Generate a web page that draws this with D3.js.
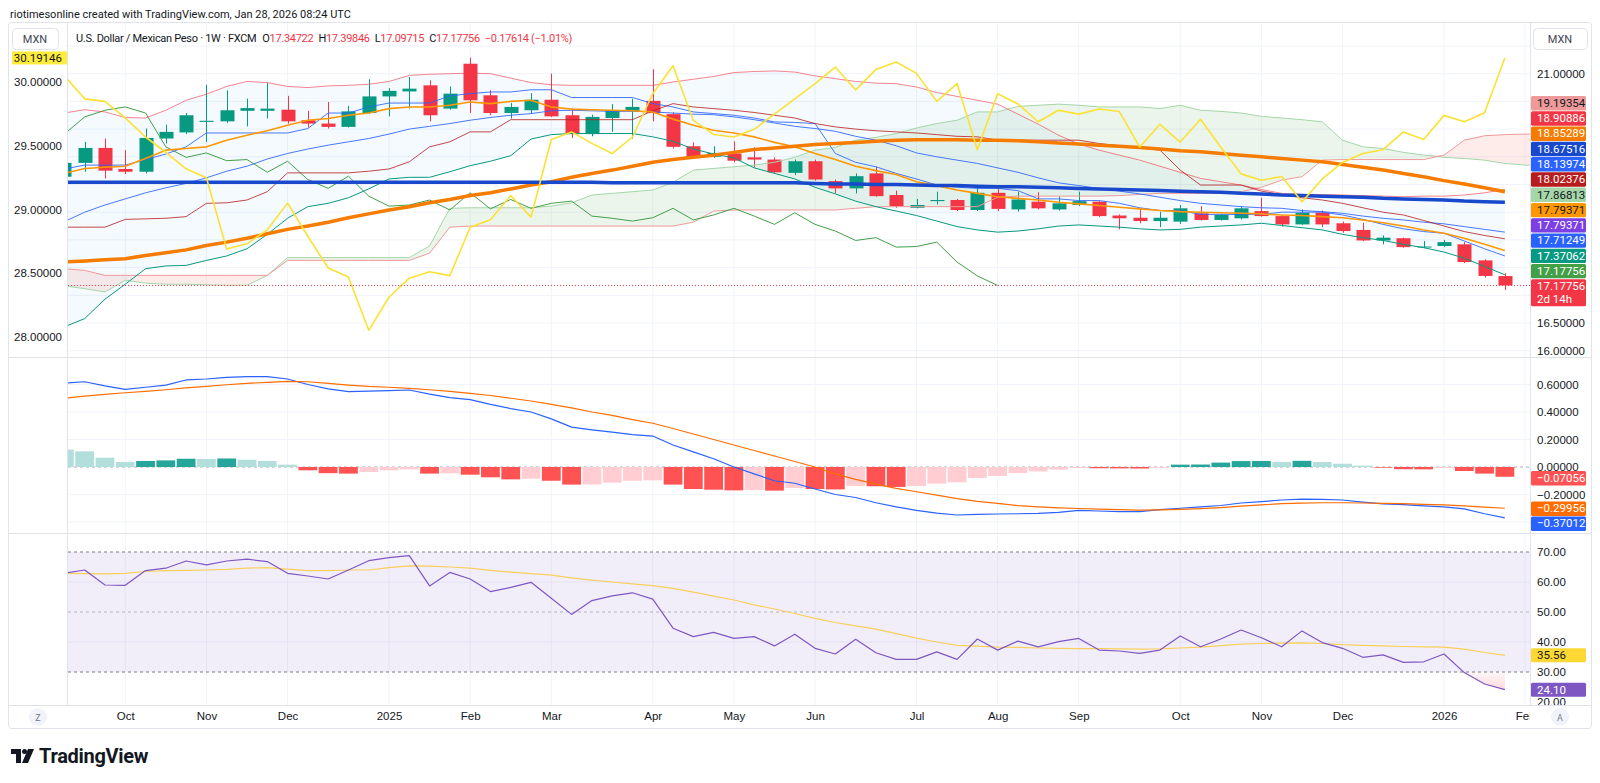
<!DOCTYPE html>
<html>
<head>
<meta charset="utf-8">
<title>USD/MXN 1W</title>
<script src="https://cdn.jsdelivr.net/npm/d3@7/dist/d3.min.js"></script>
<style>
  body { margin: 0; background: #ffffff; }
  #chart { display: block; font-family: Roboto, "Liberation Sans", Arial, sans-serif; }
  .ax text { fill: #131722; font-size: 11.5px; }
  .ax path, .ax line { display: none; }
</style>
</head>
<body>
<svg id="chart" width="1600" height="783"></svg>
<script>
// weekly bars from Sep 16 2024, the last one is the week of Jan 26 2026
const weeks = d3.utcMonday.range(new Date("2024-09-16"), new Date("2026-02-10"));

const monthTicks = ["2024-10-07","2024-11-04","2024-12-02","2025-01-06","2025-02-03","2025-03-03","2025-04-07",
  "2025-05-05","2025-06-02","2025-07-07","2025-08-04","2025-09-01","2025-10-06","2025-11-03","2025-12-01",
  "2026-01-05","2026-02-02"];
const monthLabels = ["Oct","Nov","Dec","2025","Feb","Mar","Apr","May","Jun","Jul","Aug","Sep","Oct","Nov","Dec","2026","Feb"];

// USD/MXN candles
const opens = [19.14,19.39,19.66,19.28,19.23,19.83,19.94,20.13,20.14,20.33,20.33,20.35,20.16,20.10,20.04,20.29,
  20.59,20.68,20.79,20.37,21.18,20.61,20.29,20.34,20.53,20.25,19.91,20.20,20.33,20.51,20.27,19.69,
  19.50,19.56,19.49,19.45,19.21,19.42,19.06,18.93,19.20,18.81,18.58,18.70,18.72,18.54,18.85,18.55,
  18.69,18.55,18.63,18.69,18.44,18.40,18.34,18.33,18.48,18.36,18.39,18.52,18.43,18.28,18.49,18.30,
  18.18,17.99,18.03,17.87,17.89,17.92,17.63,17.34722];
const highs = [19.45,19.77,19.83,19.62,20.01,20.08,20.29,20.80,20.70,20.55,20.83,20.60,20.33,20.49,20.42,20.90,
  20.74,20.94,20.88,20.77,21.29,20.70,20.47,20.65,21.00,20.37,20.26,20.45,20.55,21.08,20.30,19.76,
  19.69,19.78,19.67,19.49,19.45,19.45,19.09,19.20,19.32,18.89,18.74,18.87,18.74,18.96,18.96,18.87,
  18.86,18.79,18.87,18.70,18.46,18.57,18.51,18.63,18.61,18.47,18.60,18.76,18.45,18.55,18.53,18.33,
  18.31,18.08,18.04,17.98,18.00,17.96,17.65,17.39846];
const lows = [19.08,19.23,19.11,19.19,19.20,19.74,19.91,19.77,20.11,20.05,20.19,20.10,20.03,20.01,20.03,20.27,
  20.23,20.37,20.14,20.35,20.29,20.25,20.19,20.28,20.22,19.84,19.87,19.95,19.83,20.14,19.65,19.48,
  19.48,19.40,19.31,19.20,19.17,19.07,18.84,18.84,18.78,18.58,18.57,18.64,18.52,18.52,18.52,18.51,
  18.55,18.53,18.61,18.41,18.19,18.30,18.23,18.29,18.35,18.35,18.37,18.42,18.24,18.27,18.23,18.13,
  17.98,17.92,17.86,17.85,17.87,17.58,17.32,17.09715];
const closes = [19.39,19.66,19.25,19.23,19.84,19.95,20.25,20.15,20.34,20.38,20.37,20.14,20.10,20.04,20.32,20.59,
  20.69,20.73,20.25,20.64,20.52,20.29,20.40,20.53,20.23,19.91,20.22,20.34,20.40,20.29,19.68,19.49,
  19.57,19.43,19.45,19.22,19.42,19.09,18.93,19.15,18.79,18.61,18.63,18.72,18.54,18.85,18.56,18.73,
  18.57,18.66,18.70,18.43,18.39,18.34,18.40,18.57,18.36,18.45,18.57,18.43,18.28,18.49,18.28,18.16,
  17.99,18.04,17.87,17.88,17.96,17.60,17.35,17.17756];

// Bollinger bands
const bbUpper = [20.29,20.35,20.31,20.21,20.20,20.34,20.52,20.63,20.77,20.86,20.84,20.77,20.75,20.78,20.79,20.81,
  20.86,20.97,20.99,21.00,21.01,21.00,20.92,20.84,20.80,20.79,20.79,20.79,20.79,20.79,20.85,20.90,
  20.95,21.02,21.04,21.05,21.03,20.96,20.91,20.86,20.83,20.82,20.76,20.66,20.59,20.52,20.45,20.27,
  20.09,19.89,19.73,19.62,19.53,19.44,19.33,19.22,19.11,19.05,18.99,18.91,18.84,18.82,18.82,18.81,
  18.80,18.79,18.78,18.79,18.79,18.81,18.85,18.91];
const bbBasis = [18.33,18.50,18.63,18.74,18.85,18.94,19.02,19.12,19.24,19.33,19.46,19.56,19.64,19.71,19.77,19.83,
  19.91,20.00,20.05,20.10,20.16,20.21,20.25,20.28,20.33,20.34,20.33,20.32,20.32,20.31,20.29,20.27,
  20.26,20.22,20.17,20.11,20.05,20.01,19.96,19.87,19.80,19.70,19.57,19.50,19.44,19.38,19.30,19.22,
  19.12,19.03,18.98,18.93,18.88,18.83,18.77,18.71,18.66,18.63,18.60,18.58,18.57,18.53,18.51,18.48,
  18.43,18.39,18.36,18.32,18.29,18.24,18.19,18.14];
const bbLower = [16.43,16.58,16.93,17.20,17.48,17.53,17.54,17.63,17.71,17.84,18.10,18.39,18.60,18.66,18.76,18.92,
  19.10,19.13,19.13,19.23,19.34,19.42,19.52,19.82,19.90,19.92,19.92,19.92,19.92,19.86,19.78,19.64,
  19.55,19.48,19.30,19.20,19.10,18.95,18.83,18.70,18.60,18.52,18.44,18.34,18.24,18.18,18.14,18.16,
  18.20,18.25,18.27,18.25,18.23,18.20,18.18,18.19,18.23,18.25,18.27,18.30,18.26,18.22,18.18,18.10,
  18.04,17.99,17.92,17.86,17.78,17.67,17.52,17.37];

// Ichimoku
const conversion = [19.28,19.35,19.35,19.35,19.45,19.55,19.68,19.93,19.93,19.93,19.93,19.93,20.01,20.29,20.29,20.40,
  20.47,20.47,20.47,20.60,20.64,20.67,20.67,20.71,20.71,20.57,20.57,20.57,20.57,20.46,20.40,20.31,
  20.28,20.25,20.20,20.13,20.12,20.10,19.56,19.40,19.32,19.20,19.10,18.99,18.95,18.93,18.93,18.89,
  18.74,18.74,18.71,18.71,18.66,18.58,18.53,18.53,18.46,18.46,18.46,18.46,18.50,18.50,18.50,18.45,
  18.37,18.28,18.20,18.15,18.12,17.98,17.84,17.71];
const baseLine = [18.23,18.23,18.23,18.37,18.38,18.39,18.42,18.66,18.67,18.72,18.87,19.21,19.21,19.21,19.21,19.24,
  19.28,19.41,19.68,19.77,19.95,19.95,20.17,20.17,20.17,20.17,20.17,20.17,20.17,20.33,20.46,20.40,
  20.37,20.34,20.30,20.25,20.20,20.10,20.04,20.00,19.97,19.95,19.93,19.90,19.87,19.86,19.80,19.80,
  19.80,19.80,19.80,19.74,19.70,19.66,19.62,19.26,18.99,18.99,18.99,18.88,18.82,18.76,18.72,18.66,
  18.58,18.50,18.45,18.35,18.25,18.15,18.08,18.02];
const spanA = [17.17,17.12,17.06,17.27,17.22,17.20,17.20,17.19,17.18,17.18,17.36,17.68,17.68,17.68,17.68,17.68,
  17.68,17.68,17.89,18.57,18.58,18.58,18.58,18.58,18.61,18.67,18.81,18.84,18.87,18.90,19.04,19.26,
  19.29,19.32,19.35,19.40,19.49,19.62,19.67,19.80,19.85,19.92,20.02,20.10,20.16,20.31,20.31,20.41,
  20.43,20.45,20.43,20.40,20.40,20.40,20.37,20.43,20.34,20.32,20.29,20.23,20.20,20.17,20.13,19.80,
  19.68,19.65,19.58,19.53,19.49,19.47,19.44,19.38,19.35,19.35];
const spanB = [17.48,17.45,17.36,17.36,17.36,17.36,17.36,17.36,17.36,17.36,17.36,17.63,17.63,17.63,17.63,17.63,
  17.63,17.63,17.76,18.23,18.25,18.25,18.25,18.25,18.25,18.25,18.25,18.25,18.25,18.25,18.25,18.32,
  18.52,18.54,18.54,18.54,18.54,18.54,18.54,18.57,18.60,18.60,18.60,18.60,18.60,18.60,18.77,18.79,
  18.79,18.79,18.79,18.79,18.80,18.82,18.84,18.84,18.84,18.84,18.87,18.95,19.08,19.14,19.44,19.45,
  19.45,19.45,19.45,19.45,19.53,19.80,19.88,19.90,19.91,19.91];

// moving averages
const maSlow = [19.04,19.04,19.04,19.04,19.04,19.04,19.04,19.04,19.04,19.04,19.04,19.04,19.04,19.04,19.04,19.04,
  19.04,19.04,19.04,19.04,19.04,19.04,19.04,19.04,19.04,19.04,19.04,19.03,19.03,19.03,19.03,19.03,
  19.03,19.03,19.03,19.03,19.03,19.02,19.01,19.01,19.00,19.00,18.99,18.98,18.98,18.97,18.96,18.96,
  18.95,18.94,18.93,18.92,18.91,18.90,18.89,18.88,18.87,18.86,18.84,18.83,18.81,18.80,18.79,18.78,
  18.77,18.75,18.74,18.73,18.72,18.70,18.69,18.68];
const maMid = [17.60,17.62,17.64,17.66,17.72,17.77,17.82,17.90,17.96,18.03,18.11,18.19,18.25,18.32,18.40,18.47,
  18.54,18.60,18.67,18.73,18.80,18.85,18.92,18.99,19.05,19.13,19.20,19.26,19.33,19.40,19.45,19.49,
  19.53,19.58,19.63,19.66,19.69,19.72,19.74,19.76,19.78,19.80,19.81,19.81,19.81,19.80,19.80,19.79,
  19.77,19.75,19.73,19.71,19.69,19.67,19.64,19.61,19.59,19.56,19.53,19.50,19.47,19.44,19.41,19.36,
  19.31,19.26,19.20,19.14,19.07,19.01,18.94,18.87];
const maFast = [19.20,19.29,19.31,19.33,19.47,19.62,19.65,19.68,19.80,19.89,19.97,20.07,20.16,20.19,20.25,20.29,
  20.37,20.40,20.40,20.43,20.49,20.46,20.50,20.52,20.40,20.36,20.35,20.34,20.33,20.31,20.18,20.07,
  19.98,19.93,19.86,19.76,19.68,19.56,19.45,19.33,19.25,19.18,19.05,18.98,18.90,18.84,18.78,18.75,
  18.72,18.68,18.65,18.62,18.59,18.56,18.53,18.51,18.50,18.49,18.48,18.47,18.45,18.44,18.42,18.40,
  18.36,18.31,18.25,18.18,18.12,18.03,17.92,17.81];

// overlay on the left scale
const overlay = [30.05,29.87,29.85,29.72,29.57,29.45,29.32,29.25,28.69,28.73,28.84,29.05,28.79,28.54,28.47,28.05,
  28.31,28.46,28.51,28.48,28.86,28.92,29.11,28.94,29.55,29.61,29.52,29.44,29.57,29.91,30.13,29.70,
  29.59,29.57,29.63,29.75,29.87,29.99,30.12,29.94,30.10,30.16,30.07,29.85,29.99,29.47,29.91,29.83,
  29.69,29.78,29.75,29.79,29.77,29.49,29.67,29.53,29.71,29.49,29.28,29.23,29.26,29.06,29.24,29.37,
  29.44,29.47,29.61,29.55,29.74,29.69,29.76,30.19146];

// MACD
const macdLine = [0.610,0.620,0.590,0.565,0.580,0.596,0.633,0.640,0.652,0.657,0.657,0.640,0.600,0.568,0.548,0.552,
  0.556,0.560,0.530,0.505,0.490,0.455,0.425,0.400,0.350,0.290,0.270,0.253,0.235,0.225,0.160,0.110,
  0.060,0.000,-0.050,-0.100,-0.118,-0.160,-0.200,-0.222,-0.260,-0.290,-0.315,-0.335,-0.349,-0.345,-0.342,-0.340,
  -0.337,-0.330,-0.316,-0.320,-0.324,-0.325,-0.310,-0.300,-0.290,-0.280,-0.262,-0.252,-0.240,-0.234,-0.236,-0.240,
  -0.255,-0.268,-0.274,-0.283,-0.290,-0.305,-0.340,-0.370];
const macdSignal = [0.500,0.515,0.528,0.540,0.550,0.562,0.575,0.586,0.598,0.608,0.616,0.623,0.620,0.608,0.596,0.586,
  0.580,0.572,0.562,0.550,0.536,0.520,0.500,0.480,0.456,0.430,0.400,0.375,0.345,0.318,0.280,0.240,
  0.200,0.160,0.120,0.080,0.040,0.000,-0.050,-0.090,-0.125,-0.155,-0.180,-0.205,-0.230,-0.250,-0.265,-0.281,
  -0.290,-0.297,-0.302,-0.306,-0.310,-0.314,-0.312,-0.308,-0.303,-0.295,-0.285,-0.275,-0.267,-0.263,-0.260,-0.260,
  -0.262,-0.264,-0.267,-0.272,-0.276,-0.283,-0.292,-0.300];
const macdHist = [0.126,0.114,0.068,0.036,0.044,0.048,0.060,0.058,0.062,0.053,0.044,0.017,-0.024,-0.045,-0.048,-0.036,
  -0.024,-0.017,-0.048,-0.046,-0.056,-0.075,-0.090,-0.085,-0.100,-0.128,-0.127,-0.114,-0.100,-0.097,-0.128,-0.160,
  -0.165,-0.170,-0.168,-0.172,-0.153,-0.160,-0.163,-0.138,-0.140,-0.145,-0.138,-0.121,-0.111,-0.080,-0.065,-0.044,
  -0.032,-0.019,-0.007,-0.009,-0.010,-0.011,-0.005,0.017,0.018,0.032,0.043,0.044,0.036,0.045,0.036,0.024,
  0.010,-0.005,-0.016,-0.017,-0.007,-0.029,-0.048,-0.071];

// RSI
const rsi = [62.9,64.0,59.0,58.9,63.8,64.6,67.0,65.7,67.0,67.6,66.8,62.9,62.0,61.0,64.0,67.1,
  68.1,68.8,58.7,63.2,61.0,56.8,58.2,59.9,54.6,49.2,53.8,55.4,56.4,54.3,44.6,41.8,
  43.2,41.2,41.8,38.7,42.6,37.9,36.0,40.9,36.4,34.2,34.2,36.7,34.2,41.0,37.3,40.3,
  38.4,40.1,41.2,37.3,37.0,36.2,37.3,42.0,38.4,41.0,44.0,41.4,38.4,43.7,39.8,37.9,
  34.9,35.7,33.2,33.4,36.0,29.8,26.0,24.1];
const rsiMa = [62.9,62.8,62.7,62.9,63.5,63.8,63.9,64.0,64.2,64.6,64.8,64.3,63.8,63.8,64.0,64.0,
  64.8,65.4,65.3,65.0,64.6,63.9,63.3,62.8,62.3,61.4,60.6,60.0,59.4,58.8,57.9,56.6,
  55.3,54.0,52.4,51.0,49.5,47.9,46.5,45.4,44.3,42.8,41.3,40.0,38.9,38.6,38.3,38.2,
  38.0,37.9,37.8,37.8,37.7,37.6,37.7,38.0,38.3,38.8,39.3,39.5,39.6,39.7,39.5,39.1,
  38.9,38.7,38.5,38.4,38.3,37.6,36.5,35.56];

// last-value tags on the right scale
const mainTags = ["19.19354","18.90886","18.85289","18.67516","18.13974","18.02376","17.86813","17.79371","17.79371","17.71249","17.37062","17.17756"];
const macdTags = ["−0.07056","−0.29956","−0.37012"];
const rsiTags = ["35.56","24.10"];
const ohlcNames = ["O","H","L","C"];
const ohlcValues = ["17.34722","17.39846","17.09715","17.17756"];

const svg = d3.select("#chart");

// layout
const plotLeft = 68, plotRight = 1530;
const mainTop = 23, mainBottom = 357;
const macdTop = 358, macdBottom = 533;
const rsiTop = 534, rsiBottom = 705;

const x = d3.scaleUtc()
  .domain([new Date("2025-01-06"), new Date("2026-01-05")])
  .range([389, 1444]);
const yR = d3.scaleLinear().domain([16.5, 21]).range([323, 73.7]);
const yL = d3.scaleLinear().domain([28, 30]).range([336.7, 82.3]);
const yM = d3.scaleLinear().domain([-0.2, 0.6]).range([494.5, 384.5]);
const yRsi = d3.scaleLinear().domain([30, 70]).range([672, 552]);

const defs = svg.append("defs");
function addClip(id, x0, y0, x1, y1) {
  defs.append("clipPath").attr("id", id).append("rect")
    .attr("x", x0).attr("y", y0).attr("width", x1 - x0).attr("height", y1 - y0);
}
addClip("clipMain", plotLeft, mainTop, plotRight, mainBottom);
addClip("clipMacd", plotLeft, macdTop, plotRight, macdBottom);
addClip("clipRsi", plotLeft, rsiTop, plotRight, rsiBottom);
addClip("clipTime", plotLeft, rsiBottom, plotRight, 728);
addClip("clipRsiAxis", plotRight, rsiTop, 1592, rsiBottom);

const grad = defs.append("linearGradient").attr("id", "oversold")
  .attr("gradientUnits", "userSpaceOnUse").attr("x1", 0).attr("y1", yRsi(30)).attr("x2", 0).attr("y2", yRsi(20));
grad.append("stop").attr("offset", 0).attr("stop-color", "#f23645").attr("stop-opacity", 0.04);
grad.append("stop").attr("offset", 1).attr("stop-color", "#f23645").attr("stop-opacity", 0.3);

// header
svg.append("text").attr("x", 10).attr("y", 17.5).attr("font-size", 11).attr("fill", "#131722")
  .text("riotimesonline created with TradingView.com, Jan 28, 2026 08:24 UTC");

// frame + grid
const tickDates = monthTicks.map(d => new Date(d));
const grid = svg.append("g").attr("stroke", "#f0f3fa");
grid.selectAll("line.v").data(tickDates).enter().append("line")
  .attr("x1", d => x(d)).attr("x2", d => x(d)).attr("y1", mainTop).attr("y2", rsiBottom);
grid.selectAll("line.m").data(d3.range(16, 21.6, 0.5)).enter().append("line")
  .attr("x1", plotLeft).attr("x2", plotRight).attr("y1", d => yR(d)).attr("y2", d => yR(d));
grid.selectAll("line.d").data([-0.4, -0.2, 0.2, 0.4, 0.6]).enter().append("line")
  .attr("x1", plotLeft).attr("x2", plotRight).attr("y1", d => yM(d)).attr("y2", d => yM(d));
grid.selectAll("line.r").data([60, 40]).enter().append("line")
  .attr("x1", plotLeft).attr("x2", plotRight).attr("y1", d => yRsi(d)).attr("y2", d => yRsi(d));

const frame = svg.append("g").attr("stroke", "#e0e3eb").attr("fill", "none");
frame.append("rect").attr("x", 8.5).attr("y", 22.5).attr("width", 1583).attr("height", 706).attr("rx", 3);
[mainBottom, macdBottom, rsiBottom].forEach(y => {
  frame.append("line").attr("x1", 8).attr("x2", 1592).attr("y1", y + 0.5).attr("y2", y + 0.5);
});
frame.append("line").attr("x1", plotRight + 0.5).attr("x2", plotRight + 0.5).attr("y1", mainTop).attr("y2", rsiBottom);
frame.append("line").attr("x1", plotLeft - 0.5).attr("x2", plotLeft - 0.5).attr("y1", mainTop).attr("y2", rsiBottom);

// ---------- main pane ----------
const main = svg.append("g").attr("clip-path", "url(#clipMain)");
const xi = (d, i) => x(weeks[i]);

function drawLine(g, vals, y, color, width, opacity) {
  g.append("path").datum(vals)
    .attr("fill", "none").attr("stroke", color).attr("stroke-width", width)
    .attr("stroke-opacity", opacity || 1).attr("stroke-linejoin", "round")
    .attr("d", d3.line().x(xi).y(d => y(d)));
}

// bollinger fill
main.append("path").datum(bbUpper)
  .attr("fill", "#2196f3").attr("fill-opacity", 0.05)
  .attr("d", d3.area().x(xi).y0((d, i) => yR(bbLower[i])).y1(d => yR(d)));

// cloud, green where A is above B, red otherwise
main.append("path").datum(spanA)
  .attr("fill", "#43a047").attr("fill-opacity", 0.1)
  .attr("d", d3.area().x(xi).y0((d, i) => yR(spanB[i])).y1((d, i) => yR(Math.max(d, spanB[i]))));
main.append("path").datum(spanA)
  .attr("fill", "#f44336").attr("fill-opacity", 0.1)
  .attr("d", d3.area().x(xi).y0(d => yR(d)).y1((d, i) => yR(Math.max(d, spanB[i]))));

// candles
const candles = main.append("g");
closes.forEach((c, i) => {
  const color = c >= opens[i] ? "#089981" : "#f23645";
  const cx = Math.round(x(weeks[i])) + 0.5;
  candles.append("line").attr("x1", cx).attr("x2", cx)
    .attr("y1", yR(highs[i])).attr("y2", yR(lows[i])).attr("stroke", color);
  const top = yR(Math.max(c, opens[i])), bot = yR(Math.min(c, opens[i]));
  candles.append("rect").attr("x", cx - 7).attr("width", 14)
    .attr("y", top).attr("height", Math.max(1, bot - top)).attr("fill", color);
});

drawLine(main, spanA, yR, "#a5d6a7", 1);
drawLine(main, spanB, yR, "#ef9a9a", 1);
drawLine(main, closes.slice(25), yR, "#43a047", 1);
drawLine(main, bbUpper, yR, "#f23645", 1, 0.6);
drawLine(main, bbLower, yR, "#089981", 1);
drawLine(main, bbBasis, yR, "#2962ff", 1, 0.85);
drawLine(main, conversion, yR, "#2962ff", 1, 0.85);
drawLine(main, baseLine, yR, "#b71c1c", 1, 0.8);
drawLine(main, maFast, yR, "#ff9800", 1.6);
drawLine(main, maMid, yR, "#f57c00", 3.5);
drawLine(main, maSlow, yR, "#1848cc", 3.5);
drawLine(main, overlay, yL, "#fbe232", 1.6);

// last price line
main.append("line").attr("x1", plotLeft).attr("x2", plotRight)
  .attr("y1", yR(+ohlcValues[3])).attr("y2", yR(+ohlcValues[3]))
  .attr("stroke", "#f23645").attr("stroke-dasharray", "1,2");

// ---------- MACD pane ----------
const macd = svg.append("g").attr("clip-path", "url(#clipMacd)");
macd.append("line").attr("x1", plotLeft).attr("x2", plotRight).attr("y1", yM(0)).attr("y2", yM(0))
  .attr("stroke", "#787b86").attr("stroke-opacity", 0.6).attr("stroke-dasharray", "3,3");
macd.selectAll("rect").data(macdHist).enter().append("rect")
  .attr("x", (d, i) => x(weeks[i]) - 9.4).attr("width", 18.8)
  .attr("y", d => Math.min(yM(d), yM(0))).attr("height", d => Math.abs(yM(d) - yM(0)))
  .attr("fill", (d, i) => {
    const prev = i > 0 ? macdHist[i - 1] : d;
    if (d >= 0) return d > prev ? "#26a69a" : "#b2dfdb";
    return d < prev ? "#ff5252" : "#ffcdd2";
  });
drawLine(macd, macdLine, yM, "#2962ff", 1.2);
drawLine(macd, macdSignal, yM, "#ff6d00", 1.2);

// ---------- RSI pane ----------
const rsiG = svg.append("g").attr("clip-path", "url(#clipRsi)");
rsiG.append("rect").attr("x", plotLeft).attr("width", plotRight - plotLeft)
  .attr("y", yRsi(70)).attr("height", yRsi(30) - yRsi(70)).attr("fill", "#7e57c2").attr("fill-opacity", 0.1);
[70, 50, 30].forEach(v => {
  rsiG.append("line").attr("x1", plotLeft).attr("x2", plotRight).attr("y1", yRsi(v)).attr("y2", yRsi(v))
    .attr("stroke", "#787b86").attr("stroke-opacity", v === 50 ? 0.5 : 1).attr("stroke-dasharray", "3,3");
});
rsiG.append("path").datum(rsi).attr("fill", "url(#oversold)")
  .attr("d", d3.area().x(xi).y0(yRsi(30)).y1(d => yRsi(Math.min(d, 30))));
drawLine(rsiG, rsiMa, yRsi, "#f8cf5c", 1.2);
drawLine(rsiG, rsi, yRsi, "#7e57c2", 1.2);

// ---------- axes ----------
// only the right-scale values not hidden behind the tags
svg.append("g").attr("class", "ax").attr("transform", `translate(${plotRight + 1},0)`)
  .call(d3.axisRight(yR).tickValues([16, 16.5, 21]).tickSize(0).tickPadding(6).tickFormat(d3.format(".5f")));
svg.append("g").attr("class", "ax").attr("transform", `translate(${plotLeft},0)`)
  .call(d3.axisLeft(yL).tickValues(d3.range(28, 30.01, 0.5)).tickSize(0).tickPadding(6).tickFormat(d3.format(".5f")));
svg.append("g").attr("class", "ax").attr("transform", `translate(${plotRight + 1},0)`)
  .call(d3.axisRight(yM).tickValues([-0.2, 0, 0.2, 0.4, 0.6]).tickSize(0).tickPadding(6).tickFormat(d3.format(".5f")));
svg.append("g").attr("clip-path", "url(#clipRsiAxis)")
  .append("g").attr("class", "ax").attr("transform", `translate(${plotRight + 1},0)`)
  .call(d3.axisRight(yRsi).tickValues([20, 30, 40, 50, 60, 70]).tickSize(0).tickPadding(6).tickFormat(d3.format(".2f")));
svg.append("g").attr("clip-path", "url(#clipTime)")
  .append("g").attr("class", "ax").attr("transform", `translate(0,${rsiBottom})`)
  .call(d3.axisBottom(x).tickValues(tickDates).tickSize(0).tickPadding(7).tickFormat((d, i) => monthLabels[i]))
  .selectAll("text").attr("font-size", 12);

// value tags
function tag(y, h, text, bg, ink) {
  svg.append("rect").attr("x", plotRight + 1).attr("y", y).attr("width", 55).attr("height", h)
    .attr("rx", 1.5).attr("fill", bg);
  svg.append("text").attr("x", plotRight + 7).attr("y", y + 10.9).attr("font-size", 11.5)
    .attr("fill", ink).text(text);
}
const tagFill = ["#ef9a9a","#f23645","#f57c00","#1848cc","#2962ff","#b71c1c","#a5d6a7","#ff9800","#7b3fe4","#2962ff","#089981","#43a047"];
const tagInk = ["#131722","#fff","#fff","#fff","#fff","#fff","#131722","#131722","#fff","#fff","#fff","#fff"];
mainTags.forEach((t, i) => tag(96 + i * 15.27, 14.4, t, tagFill[i], tagInk[i]));
tag(96 + 12 * 15.27, 27, ohlcValues[3], "#f23645", "#fff");
svg.append("text").attr("x", plotRight + 7).attr("y", 96 + 12 * 15.27 + 23.5).attr("font-size", 11.5)
  .attr("fill", "#fff").text("2d 14h");

tag(471, 14.4, macdTags[0], "#ff5252", "#fff");
tag(501.5, 14.4, macdTags[1], "#ff6d00", "#fff");
tag(516.5, 14.4, macdTags[2], "#2962ff", "#fff");
tag(yRsi(35.56) - 7, 14, rsiTags[0], "#fdd835", "#131722");
tag(yRsi(24.1) - 7, 14, rsiTags[1], "#7e57c2", "#fff");

// left yellow tag
svg.append("rect").attr("x", 12).attr("y", yL(30.19146) - 6.5).attr("width", 55).attr("height", 13).attr("fill", "#ffeb3b");
svg.append("text").attr("x", 62).attr("y", yL(30.19146) + 4).attr("text-anchor", "end")
  .attr("font-size", 11.5).attr("fill", "#131722").text("30.19146");

// scale-unit boxes
[[12, 28, 46], [plotRight + 3, 28, 54]].forEach(([bx, by, bw]) => {
  svg.append("rect").attr("x", bx + 0.5).attr("y", by + 0.5).attr("width", bw).attr("height", 21).attr("rx", 4)
    .attr("fill", "#fff").attr("stroke", "#e0e3eb");
  svg.append("text").attr("x", bx + bw / 2).attr("y", by + 15).attr("text-anchor", "middle")
    .attr("font-size", 11).attr("fill", "#434651").text("MXN");
});

// legend
const legend = svg.append("text").attr("x", 76).attr("y", 41.5).attr("font-size", 11)
  .attr("letter-spacing", -0.3).attr("fill", "#131722");
legend.append("tspan").text("U.S. Dollar / Mexican Peso · 1W · FXCM");
ohlcNames.forEach((n, i) => {
  legend.append("tspan").attr("dx", i ? 5 : 6).text(n);
  legend.append("tspan").attr("fill", "#f23645").text(ohlcValues[i]);
});
legend.append("tspan").attr("dx", 5).attr("fill", "#f23645").text("−0.17614 (−1.01%)");

// corner buttons
[[38, "Z"], [1560, "A"]].forEach(([cx, t]) => {
  svg.append("circle").attr("cx", cx).attr("cy", 717).attr("r", 9).attr("fill", "#f0f3fa");
  svg.append("text").attr("x", cx).attr("y", 720.5).attr("text-anchor", "middle")
    .attr("font-size", 9).attr("fill", "#787b86").text(t);
});

// logo
const logo = svg.append("g").attr("transform", "translate(11,749)").attr("fill", "#131722");
logo.append("path").attr("d", "M0,0 H10 V14 H5 V5 H0 Z");
logo.append("circle").attr("cx", 13.5).attr("cy", 2.5).attr("r", 2.5);
logo.append("path").attr("d", "M17,0 H23 L17,14 H11 Z");
svg.append("text").attr("x", 39).attr("y", 763).attr("font-size", 20).attr("font-weight", 700)
  .attr("fill", "#131722").attr("letter-spacing", -0.3).text("TradingView");
</script>
</body>
</html>
